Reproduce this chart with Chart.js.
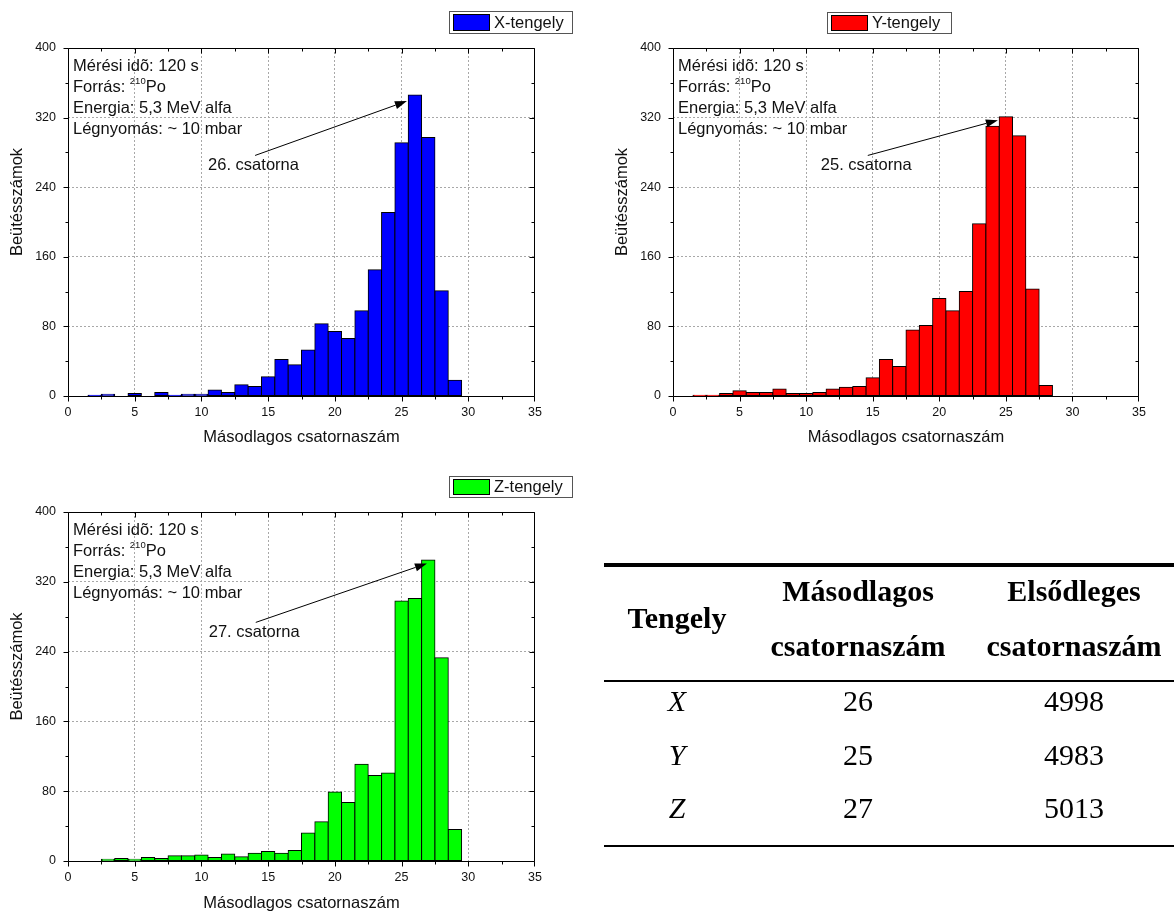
<!DOCTYPE html>
<html>
<head>
<meta charset="utf-8">
<script src="https://cdn.jsdelivr.net/npm/chart.js@4.4.1/dist/chart.umd.min.js"></script>
<style>
  html, body { margin: 0; padding: 0; background: #fff; width: 1174px; height: 914px; overflow: hidden; }
  canvas.panel { position: absolute; }
  .rule { position: absolute; background: #000; }
  .cell { position: absolute; font-family: "Liberation Serif", "Times New Roman", serif; font-size: 30px;
          line-height: 30px; white-space: nowrap; text-align: center; color: #000; width: 260px; }
  .b { font-weight: bold; }
  .i { font-style: italic; }
</style>
</head>
<body>
<canvas id="chartX" class="panel"></canvas>
<canvas id="chartY" class="panel"></canvas>
<canvas id="chartZ" class="panel"></canvas>
<div id="table"></div>

<script>
// ---- data -------------------------------------------------------------
const channels = [1, 2, 3, 4, 5, 6, 7, 8, 9, 10, 11, 12, 13, 14, 15,
                  16, 17, 18, 19, 20, 21, 22, 23, 24, 25, 26, 27, 28, 29, 30];

const countsX = [0, 1, 2, 0, 3, 0, 4, 1, 2, 2, 7, 4, 13, 11, 22,
                 42, 36, 53, 83, 74, 66, 98, 145, 211, 291, 346, 297, 121, 18, 0];
const countsY = [0, 1, 1, 3, 6, 4, 4, 8, 3, 3, 4, 8, 10, 11, 21,
                 42, 34, 76, 81, 112, 98, 120, 198, 310, 321, 299, 123, 12, 0, 0];
const countsZ = [0, 0, 2, 3, 2, 4, 3, 6, 6, 7, 4, 8, 5, 9, 11,
                 9, 12, 32, 45, 79, 67, 111, 98, 101, 298, 301, 345, 233, 36, 0];

const xTickValues = [0, 5, 10, 15, 20, 25, 30, 35];
const yTickValues = [0, 80, 160, 240, 320, 400];

const infoLines = [
  [{ t: 'Mérési idõ: 120 s' }],
  [{ t: 'Forrás: ' }, { t: '210', sup: true }, { t: 'Po' }],
  [{ t: 'Energia: 5,3 MeV alfa' }],
  [{ t: 'Légnyomás: ~ 10 mbar' }]
];

const tableAxes = ['X', 'Y', 'Z'];
const primaryChannels = [4998, 4983, 5013];

// ---- styling / layout -------------------------------------------------
const FONT = '"Liberation Sans", Arial, sans-serif';
const TEXT = '#111';

const panels = [
  { id: 'chartX', name: 'X-tengely', counts: countsX, color: '#0000ff',
    left: 0, top: 0, width: 590, height: 447, padRight: 55, xAxisH: 51,
    legend: { x: 449, y: 11, w: 123, h: 22 }, label: { x: 10.5, y: 265 }, tip: { dx: -0.6, dy: -7 } },
  { id: 'chartY', name: 'Y-tengely', counts: countsY, color: '#ff0000',
    left: 605, top: 0, width: 569, height: 447, padRight: 35, xAxisH: 51,
    legend: { x: 222, y: 12, w: 124, h: 21 }, label: { x: 11.1, y: 265 }, tip: { dx: -0.6, dy: -4 } },
  { id: 'chartZ', name: 'Z-tengely', counts: countsZ, color: '#00ff00',
    left: 0, top: 464, width: 590, height: 449, padRight: 55, xAxisH: 52,
    legend: { x: 449, y: 12, w: 123, h: 21 }, label: { x: 10.55, y: 262 }, tip: { dx: -0.1, dy: -4 } }
];

function peakOf(counts) {
  let best = 0;
  counts.forEach((v, i) => { if (v > counts[best]) best = i; });
  return { ch: channels[best], val: counts[best] };
}

function midpoints(arr) {
  return arr.slice(1).map((v, i) => (v + arr[i]) / 2);
}

// Frame with mirrored ticks, info block, peak marker, legend and y title
const histDecor = {
  id: 'histDecor',
  afterDraw(chart, args, o) {
    const { ctx, chartArea: a } = chart;
    const xs = chart.scales.x, ys = chart.scales.y;
    const L = a.left + 0.5, R = a.right - 0.5, T = a.top + 0.5, B = a.bottom + 0.5;
    const snapX = v => Math.min(Math.max(Math.round(xs.getPixelForValue(v)) + 0.5, L), R);
    const snapY = v => Math.min(Math.max(Math.round(ys.getPixelForValue(v)) + 0.5, T), B);

    ctx.save();
    ctx.strokeStyle = '#000';
    ctx.lineWidth = 1;
    ctx.beginPath();
    const seg = (x1, y1, x2, y2) => { ctx.moveTo(x1, y1); ctx.lineTo(x2, y2); };
    xTickValues.forEach(v => { const p = snapX(v); seg(p, B, p, B + 5); seg(p, T, p, T + 5); });
    midpoints(xTickValues).forEach(v => { const p = snapX(v); seg(p, B, p, B + 3); seg(p, T, p, T + 3); });
    yTickValues.forEach(v => { const p = snapY(v); seg(L, p, L - 5, p); seg(R, p, R - 5, p); });
    midpoints(yTickValues).forEach(v => { const p = snapY(v); seg(L, p, L - 3, p); seg(R, p, R - 3, p); });
    ctx.rect(L, T, R - L, B - T);
    ctx.stroke();

    // measurement info block
    ctx.fillStyle = TEXT;
    ctx.textAlign = 'left';
    ctx.textBaseline = 'middle';
    infoLines.forEach((segs, i) => {
      let cx = a.left + 5;
      const cy = a.top + 18 + 21 * i;
      segs.forEach(s => {
        ctx.font = (s.sup ? '9.5px ' : '16.5px ') + FONT;
        ctx.fillText(s.t, cx, s.sup ? cy - 6 : cy);
        cx += ctx.measureText(s.t).width;
      });
    });

    // peak channel label with arrow
    const pk = peakOf(o.counts);
    const lx = xs.getPixelForValue(o.label.x), ly = ys.getPixelForValue(o.label.y);
    ctx.font = '16.5px ' + FONT;
    ctx.fillText(pk.ch + '. csatorna', lx, ly);
    const tx = lx + 47, ty = ly - 10;
    const hx = xs.getPixelForValue(pk.ch + o.tip.dx), hy = ys.getPixelForValue(pk.val + o.tip.dy);
    const ang = Math.atan2(hy - ty, hx - tx);
    const len = 12, hw = 4;
    const bx = hx - len * Math.cos(ang), by = hy - len * Math.sin(ang);
    ctx.beginPath(); ctx.moveTo(tx, ty); ctx.lineTo(bx, by); ctx.stroke();
    ctx.beginPath();
    ctx.moveTo(hx, hy);
    ctx.lineTo(bx + hw * Math.sin(ang), by - hw * Math.cos(ang));
    ctx.lineTo(bx - hw * Math.sin(ang), by + hw * Math.cos(ang));
    ctx.closePath();
    ctx.fillStyle = '#000';
    ctx.fill();

    // legend box
    const g = o.legend;
    ctx.strokeStyle = '#555';
    ctx.strokeRect(g.x + 0.5, g.y + 0.5, g.w, g.h);
    ctx.fillStyle = o.color;
    ctx.fillRect(g.x + 4, g.y + 3, 37, g.h - 5);
    ctx.strokeStyle = '#000';
    ctx.strokeRect(g.x + 4.5, g.y + 3.5, 36, g.h - 6);
    ctx.fillStyle = TEXT;
    ctx.font = '16.5px ' + FONT;
    ctx.fillText(o.name, g.x + 45, g.y + g.h / 2 + 1);

    // y axis title
    ctx.save();
    ctx.translate(17, (a.top + a.bottom) / 2 - 20);
    ctx.rotate(-Math.PI / 2);
    ctx.textAlign = 'center';
    ctx.fillText('Beütésszámok', 0, 0);
    ctx.restore();

    ctx.restore();
  }
};

const gridColor = c => (c.tick && (c.tick.value === c.scale.min || c.tick.value === c.scale.max))
  ? 'rgba(0,0,0,0)' : '#a8a8a8';

panels.forEach(p => {
  const canvas = document.getElementById(p.id);
  canvas.width = p.width;
  canvas.height = p.height;
  canvas.style.left = p.left + 'px';
  canvas.style.top = p.top + 'px';

  new Chart(canvas, {
    type: 'bar',
    data: {
      datasets: [{
        label: p.name,
        data: channels.map((c, i) => ({ x: c, y: p.counts[i] || null })),
        backgroundColor: p.color,
        borderColor: '#000',
        borderWidth: 1,
        borderSkipped: false,
        inflateAmount: 0.5,
        barPercentage: 1,
        categoryPercentage: 1
      }]
    },
    options: {
      responsive: false,
      animation: false,
      events: [],
      layout: { padding: { top: 48, left: 0, right: p.padRight, bottom: 0 } },
      plugins: {
        legend: { display: false },
        tooltip: { enabled: false },
        histDecor: { counts: p.counts, color: p.color, name: p.name, legend: p.legend, label: p.label, tip: p.tip }
      },
      scales: {
        x: {
          type: 'linear', min: 0, max: 35, offset: false,
          afterBuildTicks: s => { s.ticks = xTickValues.map(v => ({ value: v })); },
          afterFit: s => { s.height = p.xAxisH; },
          ticks: { font: { family: FONT, size: 12.5 }, color: TEXT, padding: 9, maxRotation: 0, autoSkip: false },
          grid: { offset: false, drawTicks: false, color: gridColor, lineWidth: 1 },
          border: { display: false, dash: [2, 2] },
          title: { display: true, text: 'Másodlagos csatornaszám', color: TEXT,
                   font: { family: FONT, size: 16.5 }, padding: 0 }
        },
        y: {
          type: 'linear', min: 0, max: 400,
          afterBuildTicks: s => { s.ticks = yTickValues.map(v => ({ value: v })); },
          afterFit: s => { s.width = 68; },
          ticks: { font: { family: FONT, size: 12.5 }, color: TEXT, padding: 12 },
          grid: { drawTicks: false, color: gridColor, lineWidth: 1 },
          border: { display: false, dash: [2, 2] }
        }
      }
    },
    plugins: [histDecor]
  });
});

// ---- summary table ----------------------------------------------------
(function buildTable() {
  const host = document.getElementById('table');
  const rule = (top, h) => {
    const d = document.createElement('div');
    d.className = 'rule';
    d.style.left = '604px'; d.style.width = '570px';
    d.style.top = top + 'px'; d.style.height = h + 'px';
    host.appendChild(d);
  };
  // baseline -> top of a 30px line box for Liberation Serif
  const cell = (text, cx, baseline, cls) => {
    const d = document.createElement('div');
    d.className = 'cell ' + (cls || '');
    d.textContent = text;
    d.style.left = (cx - 130) + 'px';
    d.style.top = (baseline - 25) + 'px';
    host.appendChild(d);
  };
  const colA = 677, colB = 858, colC = 1074;
  rule(563, 4);
  rule(680, 2);
  rule(845, 2);
  cell('Tengely', colA, 628, 'b');
  cell('Másodlagos', colB, 601, 'b');
  cell('csatornaszám', colB, 656, 'b');
  cell('Elsődleges', colC, 601, 'b');
  cell('csatornaszám', colC, 656, 'b');
  const series = [countsX, countsY, countsZ];
  const baselines = [711, 765, 818];
  tableAxes.forEach((ax, i) => {
    cell(ax, colA, baselines[i], 'i');
    cell(String(peakOf(series[i]).ch), colB, baselines[i]);
    cell(String(primaryChannels[i]), colC, baselines[i]);
  });
})();
</script>
</body>
</html>
